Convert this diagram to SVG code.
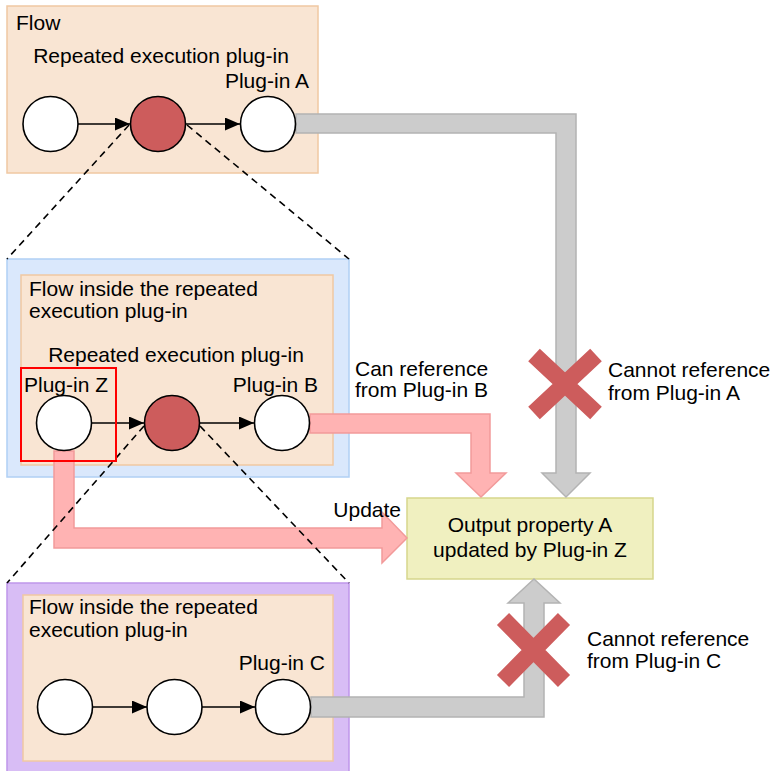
<svg xmlns="http://www.w3.org/2000/svg" width="774" height="771" viewBox="0 0 774 771">
<defs>
<style>
text{font-family:"Liberation Sans",Arial,sans-serif;font-size:21px;fill:#000}
.peach{fill:#f9e5d3;stroke:#f0c8a2;stroke-width:1.5}
.node{fill:#fff;stroke:#000;stroke-width:1.6}
.red{fill:#cd5c5c;stroke:#000;stroke-width:1.6}
.edge{stroke:#000;stroke-width:1.6;fill:none;marker-end:url(#ah)}
.dash{stroke:#000;stroke-width:1.6;fill:none;stroke-dasharray:7 5}
.gray{fill:#cccccc;stroke:#b3b3b3;stroke-width:1.5}
.pink{fill:#ffb3b3;stroke:#f29a9a;stroke-width:1.5}
.x{stroke:#cd5c5c;stroke-width:17;fill:none}
</style>
<marker id="ah" viewBox="0 0 15 13" refX="15" refY="6.5" markerWidth="15" markerHeight="13" markerUnits="userSpaceOnUse" orient="auto">
<path d="M0,0 L15,6.5 L0,13 z" fill="#000"/>
</marker>
</defs>
<rect width="774" height="771" fill="#fff"/>

<g id="flow">
<rect class="peach" x="7" y="6" width="311" height="167"/>
<text x="16" y="30">Flow</text>
<text x="161" y="63" text-anchor="middle">Repeated execution plug-in</text>
<text x="309" y="88" text-anchor="end">Plug-in A</text>
</g>

<g id="box-b">
<rect x="7" y="259" width="342" height="218" fill="#dae8fc" stroke="#b0d0f5" stroke-width="1.5"/>
<rect class="peach" x="21" y="275" width="312" height="190"/>
<text x="29" y="296">Flow inside the repeated</text>
<text x="29" y="318">execution plug-in</text>
<text x="176" y="362" text-anchor="middle">Repeated execution plug-in</text>
<text x="24" y="392">Plug-in Z</text>
<text x="318" y="392" text-anchor="end">Plug-in B</text>
</g>

<g id="box-c">
<rect x="7" y="583" width="342" height="195" fill="#d8bdf5" stroke="#bf96ea" stroke-width="1.5"/>
<rect class="peach" x="23" y="595" width="310" height="166"/>
<text x="29" y="614">Flow inside the repeated</text>
<text x="29" y="637">execution plug-in</text>
<text x="325" y="670" text-anchor="end">Plug-in C</text>
</g>

<g id="output">
<rect x="407" y="498" width="246" height="81" fill="#f0f0c0" stroke="#d6d68c" stroke-width="1.5"/>
<text x="530" y="532" text-anchor="middle">Output property A</text>
<text x="530" y="557" text-anchor="middle">updated by Plug-in Z</text>
</g>

<g id="connectors">
<polygon class="gray" points="296,114 576,114 576,473 590,473 566,497 542,473 556,473 556,133 296,133"/>
<polygon class="gray" points="311,697 524,697 524,603 508,603 534,579 560,603 544,603 544,717 311,717"/>
<polygon class="pink" points="310,414 490,414 490,473 506,473 481,497 456,473 471,473 471,433 310,433"/>
<polygon class="pink" points="54,451 74,451 74,528 382,528 382,512 407,538 382,563 382,548 54,548"/>
<line class="edge" x1="78" y1="124" x2="130" y2="124"/>
<line class="edge" x1="186" y1="124" x2="240" y2="124"/>
<line class="edge" x1="92" y1="423" x2="144" y2="423"/>
<line class="edge" x1="200" y1="423" x2="254" y2="423"/>
<line class="edge" x1="93" y1="707" x2="147" y2="707"/>
<line class="edge" x1="202" y1="707" x2="255" y2="707"/>
<line class="dash" x1="129" y1="125" x2="7" y2="259"/>
<line class="dash" x1="187" y1="125" x2="349" y2="259"/>
<line class="dash" x1="144" y1="426" x2="7" y2="583"/>
<line class="dash" x1="200" y1="426" x2="349" y2="583"/>
</g>

<g id="nodes">
<circle class="node" cx="50.5" cy="124" r="27.5"/>
<circle class="red" cx="158" cy="124" r="27.5"/>
<circle class="node" cx="268" cy="124" r="27.5"/>
<circle class="node" cx="64" cy="423" r="27.5"/>
<circle class="red" cx="172" cy="423" r="27.5"/>
<circle class="node" cx="282" cy="423" r="27.5"/>
<circle class="node" cx="65" cy="707" r="27.5"/>
<circle class="node" cx="174.5" cy="707" r="27.5"/>
<circle class="node" cx="283" cy="707" r="27.5"/>
</g>

<g id="highlight-z">
<rect x="21" y="368" width="95" height="93" fill="none" stroke="#ff0000" stroke-width="2"/>
</g>

<g id="labels">
<text x="355" y="376">Can reference</text>
<text x="355" y="397">from Plug-in B</text>
<text x="401" y="517" text-anchor="end">Update</text>
<text x="608" y="377">Cannot reference</text>
<text x="608" y="400">from Plug-in A</text>
<text x="587" y="646">Cannot reference</text>
<text x="587" y="668">from Plug-in C</text>
</g>

<g id="x-marks">
<path class="x" d="M534,355 L596,413 M596,355 L534,413"/>
<path class="x" d="M503,619 L564,681 M564,619 L503,681"/>
</g>
</svg>
